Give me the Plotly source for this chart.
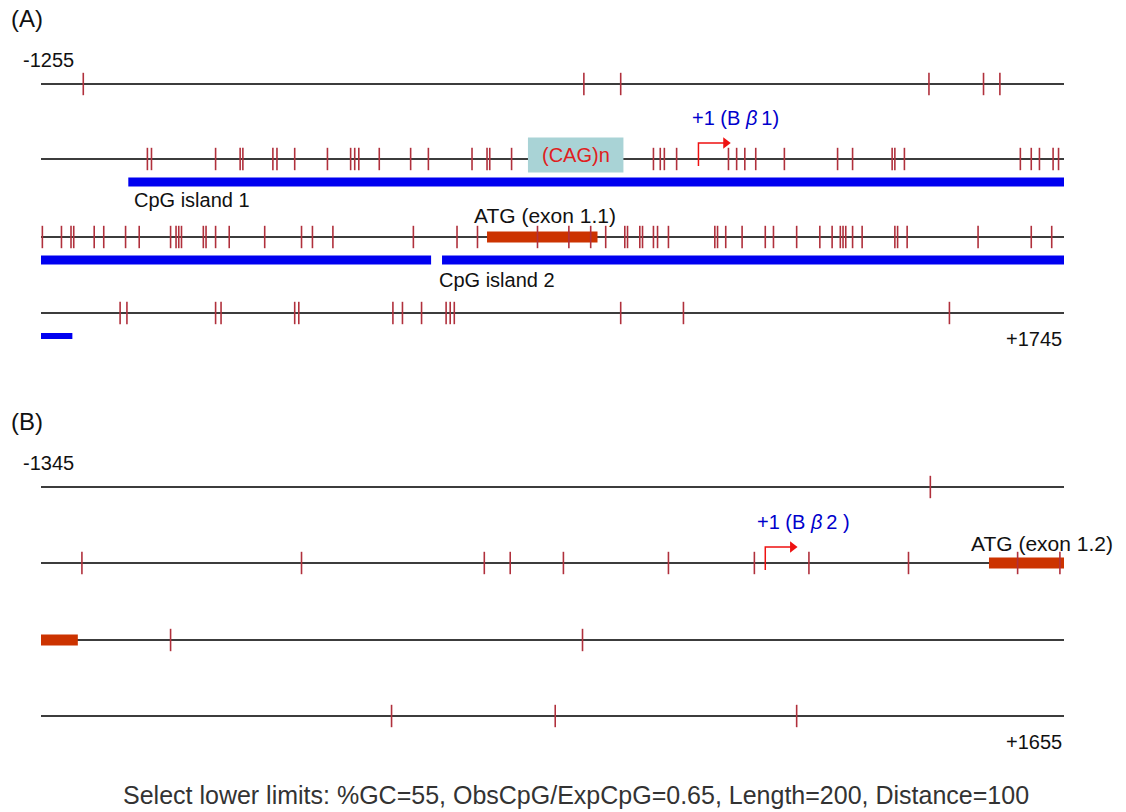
import plotly.graph_objects as go

# ---------------------------------------------------------------
# CpG map of two promoter regions, each 3000 bp wrapped in 4 rows
# of 750 bp.  Positions below are bp offsets within each row.
# ---------------------------------------------------------------
ROW_BP = 750

# Panel A: -1255 .. +1745
a_first, a_last = "-1255", "+1745"
a_sites = [
    [31, 398, 425, 651, 691, 703],
    [78, 81, 128, 146, 148, 170, 173, 186, 210, 227, 230, 233, 248, 271, 284,
     316, 327, 329, 345, 449, 454, 457, 466, 504, 510, 516, 524, 545, 584, 595,
     624, 626, 633, 718, 726, 732, 742, 746],
    [1, 15, 22, 24, 39, 46, 62, 72, 95, 99, 101, 103, 119, 121, 128, 138, 164,
     191, 199, 214, 273, 305, 320, 364, 387, 403, 414, 428, 430, 439, 441, 449,
     452, 460, 494, 496, 502, 514, 531, 537, 554, 571, 580, 586, 588, 590, 595,
     602, 626, 628, 635, 687, 726, 741],
    [58, 63, 128, 132, 186, 189, 258, 265, 279, 297, 300, 303, 425, 471, 666],
]
# features given as positions along the whole 3000-bp sequence
a_islands = [("CpG island 1", 814, 1786), ("CpG island 2", 1794, 2273)]
a_exon = ("ATG (exon 1.1)", 1827, 1908)
a_repeat = ("(CAG)n", 1107, 1177)
a_tss = ("+1 (B <i>β</i>\u20091)", 1232)

# Panel B: -1345 .. +1655
b_first, b_last = "-1345", "+1655"
b_sites = [
    [652],
    [30, 191, 325, 344, 383, 460, 523, 563, 636, 716, 747],
    [95, 397],
    [257, 377, 554],
]
b_exon = ("ATG (exon 1.2)", 1445, 1527)
b_tss = ("+1 (B <i>β</i>\u20092 )", 1281)

footer = "Select lower limits: %GC=55, ObsCpG/ExpCpG=0.65, Length=200, Distance=100"

# ---------------------------------------------------------------
# page layout (vertical positions in page pixels)
# ---------------------------------------------------------------
W, H = 1126, 812
X0_PX, X1_PX = 41, 1064                 # left / right end of every row line
A_ROW_Y = [84, 159, 237, 313]
B_ROW_Y = [487, 563, 640, 716]
ISLAND_DY = 23

SITE_RED = "#b0303c"
LINE_GREY = "#3c3c3c"
ISLAND_BLUE = "#0000f0"
EXON_RED = "#cc3300"
ARROW_RED = "#ee1111"
LABEL_BLUE = "#0000cc"
FONT = "Arial, Liberation Sans, sans-serif"
LABEL_SIZE = 20

bp_per_px = ROW_BP / (X1_PX - X0_PX)
x_range = [-X0_PX * bp_per_px, (W - X0_PX) * bp_per_px]

fig = go.Figure()


def split_rows(start, end):
    """Split a sequence interval into (row, start, end) pieces."""
    pieces = []
    s = start
    while s < end:
        row = int(s // ROW_BP)
        e = min(end, (row + 1) * ROW_BP)
        pieces.append((row, s - row * ROW_BP, e - row * ROW_BP))
        s = e
    return pieces


def rect(x0, x1, y, h, color):
    fig.add_trace(go.Scatter(
        x=[x0, x1, x1, x0, x0],
        y=[y - h / 2, y - h / 2, y + h / 2, y + h / 2, y - h / 2],
        mode="lines", fill="toself", fillcolor=color,
        line=dict(width=0, color=color), hoverinfo="skip", showlegend=False))


def draw_rows(row_y):
    for y in row_y:
        fig.add_trace(go.Scatter(
            x=[0, ROW_BP], y=[y, y], mode="lines",
            line=dict(color=LINE_GREY, width=2),
            hoverinfo="skip", showlegend=False))


def draw_sites(row_y, sites):
    xs, ys = [], []
    for y, row in zip(row_y, sites):
        xs += row
        ys += [y] * len(row)
    fig.add_trace(go.Scatter(
        x=xs, y=ys, mode="markers",
        marker=dict(symbol="line-ns", size=16,
                    line=dict(color=SITE_RED, width=1.6)),
        hoverinfo="x", showlegend=False))


def label(x, y, text, size=LABEL_SIZE, color="#111111", xanchor="left",
          xshift=0, xref="x"):
    fig.add_annotation(x=x, y=y, xref=xref, yref="y", text=text,
                       showarrow=False, xanchor=xanchor, yanchor="middle",
                       xshift=xshift,
                       font=dict(family=FONT, size=size, color=color))


def draw_tss(row_y, pos, text, xshift):
    row = int(pos // ROW_BP)
    x = pos - row * ROW_BP
    y = row_y[row]
    top = y - 16
    fig.add_trace(go.Scatter(
        x=[x, x, x + 20], y=[y + 7, top, top], mode="lines",
        line=dict(color=ARROW_RED, width=1.5),
        hoverinfo="skip", showlegend=False))
    fig.add_trace(go.Scatter(
        x=[x + 20], y=[top], mode="markers",
        marker=dict(symbol="triangle-right", size=10, color=ARROW_RED),
        hoverinfo="skip", showlegend=False))
    label(x, y - 41, text, color=LABEL_BLUE, xshift=xshift)


# ------------------------------ panel A ------------------------------
draw_rows(A_ROW_Y)

for name, s, e in a_islands:
    for row, x0, x1 in split_rows(s, e):
        h = 9 if row < 3 else 6
        rect(x0, x1, A_ROW_Y[row] + ISLAND_DY, h, ISLAND_BLUE)

name, s, e = a_exon
for row, x0, x1 in split_rows(s, e):
    rect(x0, x1, A_ROW_Y[row], 11, EXON_RED)

name, s, e = a_repeat
for row, x0, x1 in split_rows(s, e):
    rect(x0, x1, A_ROW_Y[row] - 4, 35, "#a9d3d6")
    label((x0 + x1) / 2, A_ROW_Y[row] - 4, name, color="#e02020",
          xanchor="center")

draw_sites(A_ROW_Y, a_sites)
draw_tss(A_ROW_Y, a_tss[1], a_tss[0], -8)

# island and exon labels
isl1_row, isl1_x, _ = split_rows(a_islands[0][1], a_islands[0][2])[0]
label(isl1_x, A_ROW_Y[isl1_row] + 41, a_islands[0][0], xshift=4)
isl2_row, isl2_x, _ = split_rows(a_islands[1][1], a_islands[1][2])[0]
label(isl2_x, A_ROW_Y[isl2_row] + 43, a_islands[1][0], xshift=-5)
ex_row, ex0, ex1 = split_rows(a_exon[1], a_exon[2])[0]
label((ex0 + ex1) / 2, A_ROW_Y[ex_row] - 22, a_exon[0], size=21,
      xanchor="center", xshift=3)

# ------------------------------ panel B ------------------------------
draw_rows(B_ROW_Y)

name, s, e = b_exon
for row, x0, x1 in split_rows(s, e):
    rect(x0, x1, B_ROW_Y[row], 11, EXON_RED)

draw_sites(B_ROW_Y, b_sites)
draw_tss(B_ROW_Y, b_tss[1], b_tss[0], -10)

bx_row, bx0, _ = split_rows(b_exon[1], b_exon[2])[0]
label(bx0, B_ROW_Y[bx_row] - 20, b_exon[0], size=21, xshift=-20)

# ------------------------- panel captions ----------------------------
for tag, first, last, rows in (("(A)", a_first, a_last, A_ROW_Y),
                               ("(B)", b_first, b_last, B_ROW_Y)):
    label(9 / W, rows[0] - 66, tag, size=24, xref="paper")
    label(21 / W, rows[0] - 24, first, xref="paper")
    label(ROW_BP, rows[-1] + 26, last, xanchor="right")

label(576 / W, 795, footer, size=25, color="#333333", xanchor="center",
      xref="paper")

fig.update_layout(
    width=W, height=H, autosize=False,
    margin=dict(l=0, r=0, t=0, b=0),
    paper_bgcolor="white", plot_bgcolor="white",
    xaxis=dict(range=x_range, visible=False, fixedrange=True),
    yaxis=dict(range=[H, 0], visible=False, fixedrange=True),
    showlegend=False,
)

fig.write_html("out.html")
